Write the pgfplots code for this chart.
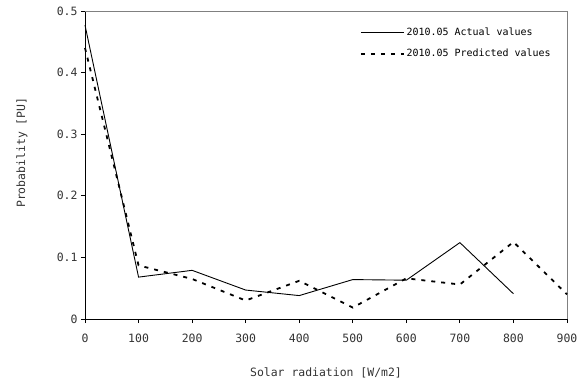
\documentclass[border=0pt]{standalone}
\usepackage{pgfplots}
\pgfplotsset{compat=1.18}
\usepackage{fontspec}
\setmainfont{DejaVu Sans Mono}
\begin{document}
\begin{tikzpicture}
\path[use as bounding box] (-85bp,-64bp) rectangle (498bp,308bp+11bp);
\begin{axis}[
  at={(0,0)}, anchor=south west,
  scale only axis, width=482bp, height=308bp,
  xmin=0, xmax=900, ymin=0, ymax=0.5,
  xtick={0,100,...,900}, ytick={0,0.1,...,0.5},
  yticklabels={0,0.1,0.2,0.3,0.4,0.5},
  axis lines=left, axis line style={-, black, line width=0.8bp},
  tick align=outside, major tick length=4bp,
  tick style={black, line width=0.8bp},
  /pgf/number format/assume math mode=true,
  tick label style={font=\fontsize{11.5}{13}\selectfont, color=black!80},
  xticklabel style={yshift=-7bp},
  label style={font=\fontsize{11.5}{13}\selectfont, color=black!80},
  xlabel={Solar radiation [W/m2]},
  ylabel={Probability [PU]},
  xlabel style={at={(axis description cs:0.5,-0.175)}, anchor=center},
  ylabel style={at={(axis description cs:-0.131,0.54)}, anchor=center},
  legend style={at={(0.57,0.952)}, anchor=north west, draw=none, fill=none,
    font=\fontsize{10}{12}\selectfont, row sep=8bp, inner sep=0pt},
  legend cell align=left,
  legend image code/.code={\draw[#1] (0bp,0bp) -- (43bp,0bp);},
  clip=false,
]
\draw[gray, line width=0.8bp] (rel axis cs:0,1) -- (rel axis cs:1,1) -- (rel axis cs:1,0);
\addplot[black, line width=0.9bp] coordinates {
(0,0.477) (100,0.068) (200,0.079) (300,0.047) (400,0.038) (500,0.064) (600,0.063) (700,0.124) (800,0.041)
};
\addlegendentry{2010.05 Actual values}
\addplot[black, line width=1.8bp, dash pattern=on 4bp off 6bp] coordinates {
(0,0.44) (100,0.087) (200,0.065) (300,0.030) (400,0.062) (500,0.0185) (600,0.066) (700,0.056) (800,0.125) (900,0.040)
};
\addlegendentry{2010.05 Predicted values}
\end{axis}
\end{tikzpicture}
\end{document}
